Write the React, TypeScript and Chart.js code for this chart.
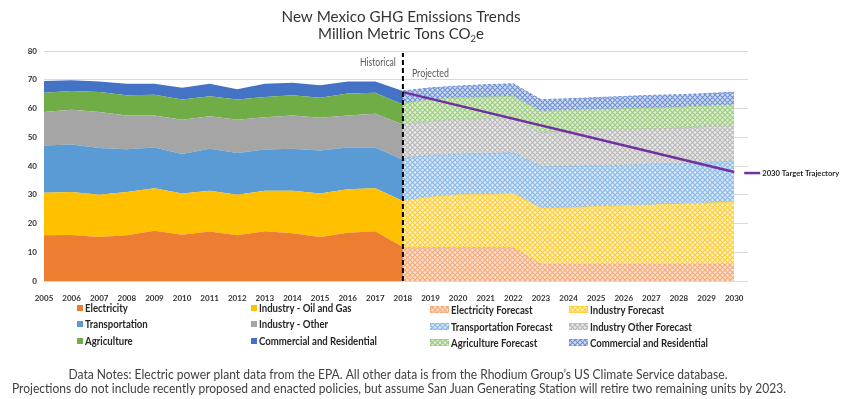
import React, { useEffect, useRef } from "react";
import { Chart, registerables } from "chart.js";

Chart.register(...registerables);

// ---------- data ----------
const HIST_YEARS = [2005, 2006, 2007, 2008, 2009, 2010, 2011, 2012, 2013, 2014, 2015, 2016, 2017, 2018];
const PROJ_YEARS = [2018, 2019, 2020, 2021, 2022, 2023, 2024, 2025, 2026, 2027, 2028, 2029, 2030];
const X_TICKS = [2005, 2006, 2007, 2008, 2009, 2010, 2011, 2012, 2013, 2014, 2015, 2016, 2017, 2018, 2019, 2020, 2021, 2022, 2023, 2024, 2025, 2026, 2027, 2028, 2029, 2030];
const Y_TICKS = [0, 10, 20, 30, 40, 50, 60, 70, 80];
const DIVIDER_YEAR = 2018;

const SERIES_NAMES = ["Electricity", "Industry - Oil and Gas", "Transportation", "Industry - Other", "Agriculture", "Commercial and Residential"];
const FORECAST_NAMES = ["Electricity Forecast", "Industry Forecast", "Transportation Forecast", "Industry Other Forecast", "Agriculture Forecast", "Commercial and Residential"];
const TARGET_NAME = "2030 Target Trajectory";

// historical (million metric tons CO2e, per sector)
const ELECTRICITY = [15.9, 16.0, 15.3, 15.9, 17.5, 16.1, 17.2, 15.9, 17.3, 16.6, 15.3, 16.8, 17.3, 11.8];
const INDUSTRY_OIL_GAS = [14.8, 15.0, 14.7, 15.1, 14.8, 14.3, 14.2, 14.1, 14.1, 14.8, 15.1, 15.1, 15.0, 16.0];
const TRANSPORTATION = [16.4, 16.5, 16.3, 14.8, 14.1, 13.8, 14.6, 14.5, 14.3, 14.6, 15.0, 14.5, 14.1, 14.4];
const INDUSTRY_OTHER = [11.7, 12.1, 12.5, 11.8, 11.2, 11.9, 11.3, 11.6, 11.3, 11.6, 11.4, 11.2, 11.8, 12.2];
const AGRICULTURE = [6.7, 6.5, 6.9, 7.0, 7.2, 7.0, 7.0, 7.0, 7.0, 7.0, 6.9, 7.6, 7.3, 7.0];
const COMMERCIAL = [4.1, 3.7, 3.7, 4.0, 3.8, 4.1, 4.3, 3.6, 4.6, 4.4, 4.4, 4.2, 3.9, 4.7];

// projections
const ELECTRICITY_FC = [11.6, 11.6, 11.6, 11.6, 11.6, 5.8, 5.8, 5.8, 5.8, 5.8, 5.8, 5.8, 5.8];
const INDUSTRY_FC = [16.2, 17.6, 18.4, 18.5, 18.8, 19.4, 19.7, 20.1, 20.4, 20.6, 21.0, 21.3, 21.8];
const TRANSPORTATION_FC = [14.8, 14.5, 14.1, 14.2, 14.2, 14.5, 14.4, 14.1, 14.0, 14.2, 14.0, 14.1, 14.1];
const INDUSTRY_OTHER_FC = [11.9, 11.8, 12.1, 12.2, 12.2, 11.9, 12.2, 12.4, 12.4, 12.3, 12.4, 12.5, 12.4];
const AGRICULTURE_FC = [7.2, 7.6, 7.5, 7.5, 7.4, 7.4, 7.3, 7.3, 7.3, 7.3, 7.3, 7.2, 7.1];
const COMMERCIAL_FC = [4.4, 4.1, 4.1, 4.3, 4.4, 4.1, 4.0, 4.1, 4.3, 4.4, 4.3, 4.3, 4.5];

const TARGET_YEARS = [2018, 2030];
const TARGET_VALUES = [65.7, 37.9];

// ---------- styles ----------
const COLORS = ["#ED7D31", "#FFC000", "#5B9BD5", "#A5A5A5", "#70AD47", "#4472C4"];
const FC_BG = ["#FCE0CF", "#FFF0C0", "#D6E7F7", "#E8E8E8", "#DCEDD2", "#D2DDF2"];
const FC_LINE = ["#F5A977", "#FFCC33", "#8AB8E6", "#B8B8B8", "#9CCB7E", "#6F91D3"];
const TARGET_COLOR = "#7030A0";
const FONT = "Lato, 'Open Sans', sans-serif";
const TICK_FONT = "'Liberation Sans Narrow', 'Arial Narrow', Lato, sans-serif";

function makePattern(bg: string, line: string): CanvasPattern | string {
  const s = 5;
  const c = document.createElement("canvas");
  c.width = s;
  c.height = s;
  const g = c.getContext("2d");
  if (!g) return bg;
  g.fillStyle = bg;
  g.fillRect(0, 0, s, s);
  g.strokeStyle = line;
  g.lineWidth = 1.1;
  g.beginPath();
  g.moveTo(0, 0);
  g.lineTo(s, s);
  g.moveTo(s, 0);
  g.lineTo(0, s);
  g.stroke();
  return g.createPattern(c, "repeat") || bg;
}

type Part = { t: string; font: string; dy?: number };

function partsWidth(ctx: CanvasRenderingContext2D, parts: Part[]) {
  return parts.map((p) => {
    ctx.font = p.font;
    return ctx.measureText(p.t).width;
  });
}

// draws text squeezed horizontally to a given width
function drawFit(ctx: CanvasRenderingContext2D, parts: Part[], x: number, y: number, w: number, align: "left" | "center" | "right") {
  const widths = partsWidth(ctx, parts);
  const total = widths.reduce((a, b) => a + b, 0);
  const sx = w / total;
  const x0 = align === "left" ? x : align === "center" ? x - w / 2 : x - w;
  ctx.save();
  ctx.translate(x0, y);
  ctx.scale(sx, 1);
  ctx.textAlign = "left";
  let cx = 0;
  parts.forEach((p, i) => {
    ctx.font = p.font;
    ctx.fillText(p.t, cx, p.dy || 0);
    cx += widths[i];
  });
  ctx.restore();
}

function drawScaled(ctx: CanvasRenderingContext2D, text: string, font: string, x: number, y: number, sx: number) {
  ctx.save();
  ctx.font = font;
  ctx.translate(x, y);
  ctx.scale(sx, 1);
  ctx.textAlign = "left";
  ctx.fillText(text, 0, 0);
  ctx.restore();
}

export default function App() {
  const ref = useRef<HTMLCanvasElement>(null);

  useEffect(() => {
    document.body.style.margin = "0";
    const canvas = ref.current;
    if (!canvas) return;

    const hist = [ELECTRICITY, INDUSTRY_OIL_GAS, TRANSPORTATION, INDUSTRY_OTHER, AGRICULTURE, COMMERCIAL];
    const fc = [ELECTRICITY_FC, INDUSTRY_FC, TRANSPORTATION_FC, INDUSTRY_OTHER_FC, AGRICULTURE_FC, COMMERCIAL_FC];
    const patterns = FC_BG.map((bg, i) => makePattern(bg, FC_LINE[i]));

    const datasets: any[] = [];
    hist.forEach((vals, i) =>
      datasets.push({
        label: SERIES_NAMES[i],
        stack: "hist",
        data: HIST_YEARS.map((yr, j) => ({ x: yr, y: vals[j] })),
        backgroundColor: COLORS[i],
        borderColor: "rgba(0,0,0,0)",
        borderWidth: 1,
        fill: i === 0 ? "origin" : "-1",
        pointRadius: 0,
        tension: 0,
      })
    );
    fc.forEach((vals, i) =>
      datasets.push({
        label: FORECAST_NAMES[i],
        stack: "proj",
        data: PROJ_YEARS.map((yr, j) => ({ x: yr, y: vals[j] })),
        backgroundColor: patterns[i],
        borderColor: FC_LINE[i],
        borderWidth: 1,
        borderDash: [3, 2],
        fill: i === 0 ? "origin" : "-1",
        pointRadius: 0,
        tension: 0,
      })
    );
    datasets.push({
      label: TARGET_NAME,
      stack: "target",
      data: TARGET_YEARS.map((yr, j) => ({ x: yr, y: TARGET_VALUES[j] })),
      borderColor: TARGET_COLOR,
      backgroundColor: TARGET_COLOR,
      borderWidth: 2.5,
      fill: false,
      pointRadius: 0,
      order: -1,
    });

    const overlay = {
      id: "overlay",
      afterDatasetsDraw(chart: any) {
        const { ctx, chartArea, scales } = chart;
        const x = scales.x;
        const y = scales.y;
        const px = x.getPixelForValue(DIVIDER_YEAR);
        ctx.save();
        ctx.setLineDash([5, 3]);
        ctx.lineWidth = 2;
        ctx.strokeStyle = "#000";
        ctx.beginPath();
        ctx.moveTo(px, y.getPixelForValue(0));
        ctx.lineTo(px, chartArea.top + 2);
        ctx.stroke();
        ctx.restore();

        // Historical / Projected
        ctx.save();
        ctx.fillStyle = "#595959";
        ctx.textBaseline = "middle";
        drawFit(ctx, [{ t: "Historical", font: `11px ${FONT}` }], px - 7, 62, 36, "right");
        drawFit(ctx, [{ t: "Projected", font: `11px ${FONT}` }], px + 9, 73, 37, "left");
        ctx.restore();

        // target label
        const lastYear = TARGET_YEARS[TARGET_YEARS.length - 1];
        const ty = y.getPixelForValue(TARGET_VALUES[TARGET_VALUES.length - 1]);
        const tx = x.getPixelForValue(lastYear);
        ctx.save();
        ctx.strokeStyle = TARGET_COLOR;
        ctx.lineWidth = 2.5;
        ctx.beginPath();
        ctx.moveTo(tx + 10, ty + 1);
        ctx.lineTo(tx + 26, ty + 1);
        ctx.stroke();
        ctx.fillStyle = "#262626";
        ctx.textBaseline = "middle";
        drawFit(ctx, [{ t: TARGET_NAME, font: `bold 8px ${FONT}` }], tx + 28, ty + 1, 77, "left");
        ctx.restore();
      },
      afterDraw(chart: any) {
        const { ctx } = chart;
        ctx.save();
        // title
        ctx.fillStyle = "#333333";
        ctx.textBaseline = "alphabetic";
        drawFit(ctx, [{ t: "New Mexico GHG Emissions Trends", font: `16px ${FONT}` }], 401, 22, 239, "center");
        drawFit(
          ctx,
          [
            { t: "Million Metric Tons CO", font: `16px ${FONT}` },
            { t: "2", font: `10px ${FONT}`, dy: 3 },
            { t: "e", font: `16px ${FONT}` },
          ],
          401,
          39,
          166,
          "center"
        );

        // footnotes
        ctx.fillStyle = "#404040";
        drawFit(
          ctx,
          [{ t: "Data Notes: Electric power plant data from the EPA. All other data is from the Rhodium Group\u2019s US Climate Service database.", font: `14px ${FONT}` }],
          398,
          379,
          659,
          "center"
        );
        drawFit(
          ctx,
          [{ t: "Projections do not include recently proposed and enacted policies, but assume San Juan Generating Station will retire two remaining units by 2023.", font: `14px ${FONT}` }],
          399,
          393,
          774,
          "center"
        );

        // legend
        const lf = `bold 11px ${FONT}`;
        ctx.font = lf;
        const lsx = 118 / ctx.measureText("Commercial and Residential").width;
        ctx.textBaseline = "middle";
        const histRows = [308, 324, 341];
        const histCols = [77, 251];
        const fcRows = [310, 327, 343];
        const fcCols = [430, 569];
        for (let i = 0; i < 6; i++) {
          const r = Math.floor(i / 2);
          const c = i % 2;
          // historical
          const hx = histCols[c];
          const hy = histRows[r];
          ctx.fillStyle = COLORS[i];
          ctx.fillRect(hx, hy - 3, 6, 6);
          ctx.fillStyle = "#262626";
          drawScaled(ctx, SERIES_NAMES[i], lf, hx + 8, hy, lsx);
          // forecast
          const fx = fcCols[c];
          const fy = fcRows[r];
          ctx.fillStyle = patterns[i];
          ctx.fillRect(fx, fy - 4, 19, 7);
          ctx.save();
          ctx.strokeStyle = FC_LINE[i];
          ctx.setLineDash([3, 2]);
          ctx.lineWidth = 1;
          ctx.strokeRect(fx + 0.5, fy - 3.5, 18, 6);
          ctx.restore();
          ctx.fillStyle = "#262626";
          drawScaled(ctx, FORECAST_NAMES[i], lf, fx + 21, fy, lsx);
        }
        ctx.restore();
      },
    };

    const chart = new Chart(canvas, {
      type: "line",
      data: { datasets },
      options: {
        responsive: false,
        animation: false,
        devicePixelRatio: 1,
        layout: { padding: { top: 51, right: 102, left: 0, bottom: 0 } },
        plugins: {
          legend: { display: false },
          title: { display: false },
          tooltip: { enabled: false },
        },
        scales: {
          x: {
            type: "linear",
            min: 2005,
            max: 2030.5,
            grid: { display: false },
            border: { display: false },
            afterBuildTicks: (s: any) => {
              s.ticks = X_TICKS.map((v) => ({ value: v }));
            },
            afterFit: (s: any) => {
              s.height = 118;
            },
            ticks: {
              autoSkip: false,
              maxRotation: 0,
              padding: 5,
              color: "#333333",
              font: { family: TICK_FONT, size: 8, weight: "bold" },
              callback: (v: any) => String(v),
            },
          },
          y: {
            stacked: true,
            min: 0,
            max: 80,
            afterBuildTicks: (s: any) => {
              s.ticks = Y_TICKS.map((v) => ({ value: v }));
            },
            afterFit: (s: any) => {
              s.width = 44;
            },
            grid: { color: "#D9D9D9", lineWidth: 1, drawTicks: false },
            border: { display: false },
            ticks: {
              padding: 7,
              color: "#333333",
              font: { family: TICK_FONT, size: 8, weight: "bold" },
              callback: (v: any) => String(v),
            },
          },
        },
      },
      plugins: [overlay],
    } as any);

    return () => chart.destroy();
  }, []);

  return (
    <div style={{ width: 850, height: 399, background: "#fff" }}>
      <canvas ref={ref} width={850} height={399} style={{ display: "block", width: 850, height: 399 }} />
    </div>
  );
}
